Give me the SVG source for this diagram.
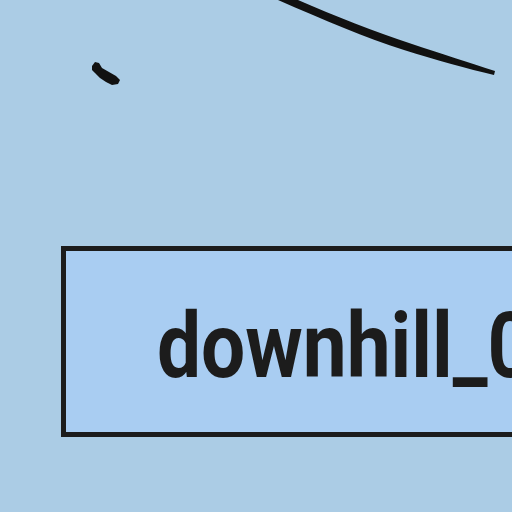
<svg xmlns="http://www.w3.org/2000/svg" width="512" height="512" viewBox="0 0 512 512">
<style>
.ink{fill:#111111;}
.box{fill:#a9cdf2;stroke:#1c1c1c;stroke-width:5;}
.lbl{font-family:Roboto,"Liberation Sans",sans-serif;font-weight:bold;font-size:90px;fill:#1c1c1c;}
</style>
<rect width="512" height="512" fill="#abcce5"/>
<g id="connectors">
<path class="ink" d="M278,0 L298,0 C335,16 375,32 412,44 C442,54 470,63 495,71 L494,75 C468,69 436,60 404,50 C366,38 324,20 278,0 Z"/>
<path class="ink" d="M92,66 L95,62 L99,63 L102,68 L109,72 L116,76 L120,80 L118,84 L112,85 L106,82 L100,78 L95,73 L92,70 Z"/>
</g>
<g id="node-downhill">
<rect class="box" x="63.5" y="248.5" width="470" height="186"/>
<text class="lbl" transform="translate(157,377) scale(0.87,1)" x="0" y="0">downhill_0</text>
</g>
</svg>
